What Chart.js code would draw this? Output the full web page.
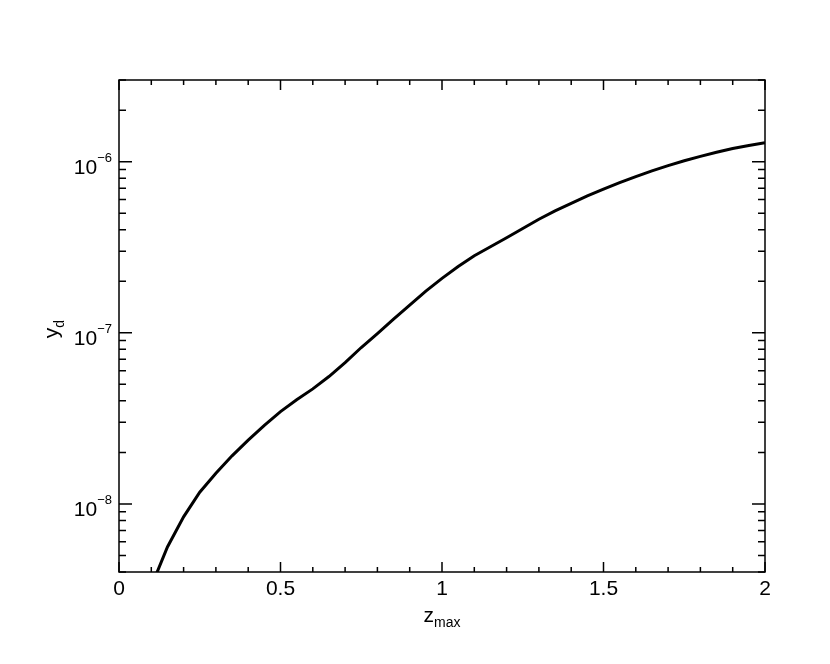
<!DOCTYPE html>
<html>
<head>
<meta charset="utf-8">
<script src="https://cdn.jsdelivr.net/npm/chart.js@4.4.0/dist/chart.umd.min.js"></script>
<style>
  body { margin: 0; background: #fff; }
  canvas { display: block; }
</style>
</head>
<body>
<canvas id="grafico" width="830" height="664"></canvas>
<script>

const zmax = [
    0.10, 0.15, 0.20, 0.25, 0.30, 0.35, 0.40, 0.45, 0.50, 0.55,
    0.60, 0.65, 0.70, 0.75, 0.80, 0.85, 0.90, 0.95, 1.00, 1.05,
    1.10, 1.15, 1.20, 1.25, 1.30, 1.35, 1.40, 1.45, 1.50, 1.55,
    1.60, 1.65, 1.70, 1.75, 1.80, 1.85, 1.90, 1.95, 2.00
];

const yd = [
    3.3e-9, 5.6e-9, 8.4e-9, 1.17e-8, 1.51e-8, 1.91e-8, 2.36e-8, 2.88e-8, 3.46e-8, 4.06e-8,
    4.7e-8, 5.55e-8, 6.7e-8, 8.2e-8, 9.9e-8, 1.2e-7, 1.45e-7, 1.75e-7, 2.08e-7, 2.44e-7,
    2.82e-7, 3.18e-7, 3.59e-7, 4.07e-7, 4.61e-7, 5.16e-7, 5.71e-7, 6.3e-7, 6.9e-7, 7.53e-7,
    8.18e-7, 8.83e-7, 9.48e-7, 1.012e-6, 1.074e-6, 1.135e-6, 1.194e-6, 1.242e-6, 1.288e-6
];

// tick labels
const xTicks = [0, 0.5, 1, 1.5, 2];
const yDecades = [-8, -7, -6];

const fonte = "'Liberation Sans', Arial, sans-serif";

// frame, inward ticks on all four sides, log labels and titles with sub/superscripts
const moldura = {

    id: "moldura",

    afterDraw(chart){

        const ctx = chart.ctx;
        const area = chart.chartArea;
        const sx = chart.scales.x;
        const sy = chart.scales.y;

        ctx.save();
        ctx.strokeStyle = "#000";
        ctx.lineWidth = 1.5;
        ctx.strokeRect(area.left, area.top, area.right - area.left, area.bottom - area.top);

        ctx.beginPath();

        // x ticks, minor every 0.1
        for(let i = 0; i <= 20; i++){
            const px = sx.getPixelForValue(i / 10);
            const len = i % 5 == 0 ? 10 : 5;
            ctx.moveTo(px, area.bottom);
            ctx.lineTo(px, area.bottom - len);
            ctx.moveTo(px, area.top);
            ctx.lineTo(px, area.top + len);
        }

        // y ticks, log minors
        for(let d = -9; d <= -6; d++){
            for(let m = 1; m <= 9; m++){
                const v = m * Math.pow(10, d);
                if(v < sy.min || v > sy.max) continue;
                const py = sy.getPixelForValue(v);
                const len = m == 1 ? 13 : 7;
                ctx.moveTo(area.left, py);
                ctx.lineTo(area.left + len, py);
                ctx.moveTo(area.right, py);
                ctx.lineTo(area.right - len, py);
            }
        }

        ctx.stroke();

        // y labels 10^n
        ctx.fillStyle = "#000";
        ctx.textBaseline = "alphabetic";
        ctx.textAlign = "left";

        yDecades.forEach(e => {
            const py = sy.getPixelForValue(Math.pow(10, e));
            const sup = "\u2212" + Math.abs(e);
            ctx.font = "13px " + fonte;
            const wSup = ctx.measureText(sup).width;
            ctx.font = "21px " + fonte;
            const wBase = ctx.measureText("10").width;
            const x0 = area.left - 7 - wSup - wBase;
            ctx.fillText("10", x0, py + 12);
            ctx.font = "13px " + fonte;
            ctx.fillText(sup, x0 + wBase, py + 0.5);
        });

        // x title z_max
        ctx.font = "21px " + fonte;
        const wz = ctx.measureText("z").width;
        ctx.font = "14px " + fonte;
        const wm = ctx.measureText("max").width;
        const cx = (area.left + area.right) / 2;
        const xz = cx - (wz + wm) / 2;
        ctx.font = "21px " + fonte;
        ctx.fillText("z", xz, 622);
        ctx.font = "14px " + fonte;
        ctx.fillText("max", xz + wz, 627);

        // y title y_d, rotated
        const cy = (area.top + area.bottom) / 2 + 3;
        ctx.translate(58, cy);
        ctx.rotate(-Math.PI / 2);
        ctx.font = "21px " + fonte;
        const wy = ctx.measureText("y").width;
        ctx.font = "14px " + fonte;
        const wd = ctx.measureText("d").width;
        const xy = -(wy + wd) / 2;
        ctx.font = "21px " + fonte;
        ctx.fillText("y", xy, 0);
        ctx.font = "14px " + fonte;
        ctx.fillText("d", xy + wy, 6);

        ctx.restore();

    }

};

const ctx = document.getElementById("grafico");

new Chart(ctx, {

    type: "line",

    data: {
        datasets: [{
            data: zmax.map((z, i) => ({ x: z, y: yd[i] })),
            borderColor: "#000",
            borderWidth: 3,
            pointRadius: 0,
            tension: 0,
            fill: false,
            clip: 0
        }]
    },

    options: {

        responsive: false,
        animation: false,

        layout: {
            padding: { left: 119, right: 65, top: 80, bottom: 0 }
        },

        plugins: {
            legend: { display: false },
            tooltip: { enabled: false }
        },

        scales: {

            x: {
                type: "linear",
                min: 0,
                max: 2,
                afterBuildTicks: s => { s.ticks = xTicks.map(v => ({ value: v })); },
                afterFit: s => { s.height = 92; },
                grid: { display: false, drawTicks: false },
                border: { display: false },
                ticks: {
                    color: "#000",
                    padding: 5,
                    maxRotation: 0,
                    font: { family: fonte, size: 21 },
                    callback: v => String(v)
                }
            },

            y: {
                type: "logarithmic",
                min: 4e-9,
                max: 3e-6,
                display: false
            }

        }

    },

    plugins: [moldura]

});

</script>
</body>
</html>
